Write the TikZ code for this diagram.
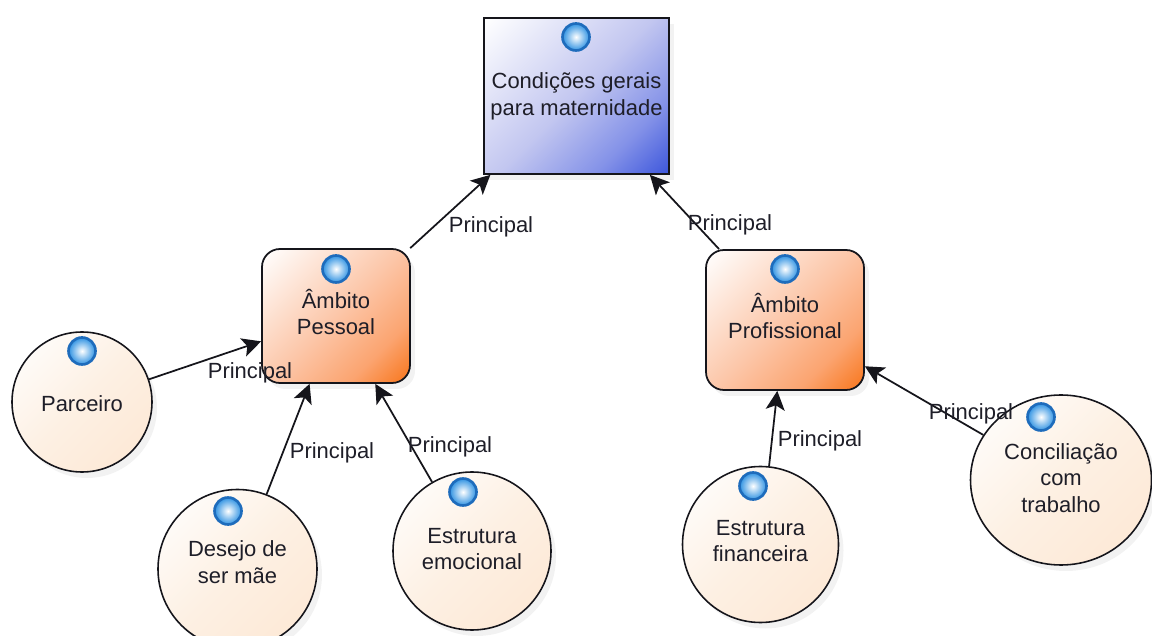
\documentclass[tikz,border=0pt]{standalone}
\usepackage{fontspec}
\setmainfont{Liberation Sans}
\usetikzlibrary{arrows.meta,shadows,shapes.geometric}

\definecolor{inktext}{HTML}{1E1E28}
\definecolor{edgeline}{HTML}{15151B}
\definecolor{goalblue}{HTML}{3F58DC}
\definecolor{midblue}{HTML}{8492E8}
\definecolor{softblue}{HTML}{C2C6F0}
\definecolor{fullorange}{HTML}{F8761C}
\definecolor{midorange}{HTML}{FBA470}
\definecolor{softorange}{HTML}{FCC6A8}
\definecolor{softpeach}{HTML}{FDF0E3}
\definecolor{deeppeach}{HTML}{FDE8D5}
\definecolor{ballring}{HTML}{1E6CBC}
\definecolor{ballmid}{HTML}{2F92E2}

\pgfdeclareverticalshading{goalfade}{100bp}{color(0bp)=(goalblue); color(15bp)=(goalblue); color(30bp)=(midblue); color(50bp)=(softblue); color(85bp)=(white); color(100bp)=(white)}
\pgfdeclareverticalshading{areafade}{100bp}{color(0bp)=(fullorange); color(15bp)=(fullorange); color(30bp)=(midorange); color(50bp)=(softorange); color(85bp)=(white); color(100bp)=(white)}
\pgfdeclareverticalshading{itemfade}{100bp}{color(0bp)=(deeppeach); color(20bp)=(deeppeach); color(50bp)=(softpeach); color(85bp)=(white); color(100bp)=(white)}

\tikzset{
    goal/.style={draw=edgeline, line width=1pt, shape=rectangle, inner sep=0pt, align=center,
        font=\fontsize{12.5}{15.2}\selectfont, text=inktext,
        shade, shading=goalfade, shading angle=45,
        drop shadow={opacity=0.1, shadow xshift=0.1cm, shadow yshift=-0.12cm}},
    area/.style={goal, rounded corners=0.36cm, shading=areafade},
    item/.style={draw=edgeline, line width=0.9pt, shape=circle, inner sep=0pt, align=center,
        font=\fontsize{12.5}{15.2}\selectfont, text=inktext,
        shade, shading=itemfade, shading angle=45,
        drop shadow={opacity=0.1, shadow xshift=0.1cm, shadow yshift=-0.12cm}},
    ball/.style={draw=ballring, line width=1.5pt, shape=circle, minimum size=0.54cm, inner sep=0pt,
        inner color=white, outer color=ballmid},
    link/.style={draw=edgeline, line width=1pt, -{Stealth[length=0.38cm, width=0.38cm, inset=0.09cm]}},
    tag/.style={font=\fontsize{12.5}{15}\selectfont, text=inktext, inner sep=0pt}
}

\begin{document}
\begin{tikzpicture}
    \useasboundingbox (0, 0) rectangle (23.04, 12.7);

    \node (g1) at (11.53, 10.78) [goal, minimum width=3.7cm, minimum height=3.12cm] {Condições gerais\\para maternidade};

    \node (a1) at (6.72, 6.38) [area, minimum width=2.96cm, minimum height=2.68cm, text depth=0.16cm] {Âmbito\\Pessoal};
    \node (a2) at (15.7, 6.3) [area, minimum width=3.16cm, minimum height=2.8cm, text depth=0.16cm] {Âmbito\\Profissional};

    \node (i1) at (1.64, 4.66) [item, minimum size=2.8cm, text height=0.4cm] {Parceiro};
    \node (i2) at (4.75, 1.32) [item, minimum size=3.18cm, text depth=0.28cm] {Desejo de\\ser mãe};
    \node (i3) at (9.44, 1.68) [item, minimum size=3.16cm, text depth=0.08cm] {Estrutura\\emocional};
    \node (i4) at (15.21, 1.81) [item, minimum size=3.12cm, text depth=0.14cm] {Estrutura\\financeira};
    \node (i5) at (21.22, 3.1) [item, shape=ellipse, minimum width=3.62cm, minimum height=3.4cm, text depth=0.08cm] {Conciliação\\com\\trabalho};

    \node (b1) at (11.52, 11.96) [ball] {};
    \node (b2) at (6.72, 7.32) [ball] {};
    \node (b3) at (15.7, 7.32) [ball] {};
    \node (b4) at (1.64, 5.68) [ball] {};
    \node (b5) at (4.56, 2.48) [ball] {};
    \node (b6) at (9.26, 2.86) [ball] {};
    \node (b7) at (15.06, 2.98) [ball] {};
    \node (b8) at (20.82, 4.36) [ball] {};

    \draw[link] (a1) -- (g1);
    \draw[link] (a2) -- (g1);
    \draw[link] (i1) -- (a1);
    \draw[link] (i2) -- (a1);
    \draw[link] (i3) -- (a1);
    \draw[link] (i4) -- (a2);
    \draw[link] (i5) -- (a2);

    \node (l1) at (9.82, 8.16) [tag] {Principal};
    \node (l2) at (14.6, 8.2) [tag] {Principal};
    \node (l3) at (5, 5.24) [tag] {Principal};
    \node (l4) at (6.64, 3.64) [tag] {Principal};
    \node (l5) at (9, 3.76) [tag] {Principal};
    \node (l6) at (16.4, 3.88) [tag] {Principal};
    \node (l7) at (19.42, 4.42) [tag] {Principal};
\end{tikzpicture}
\end{document}
